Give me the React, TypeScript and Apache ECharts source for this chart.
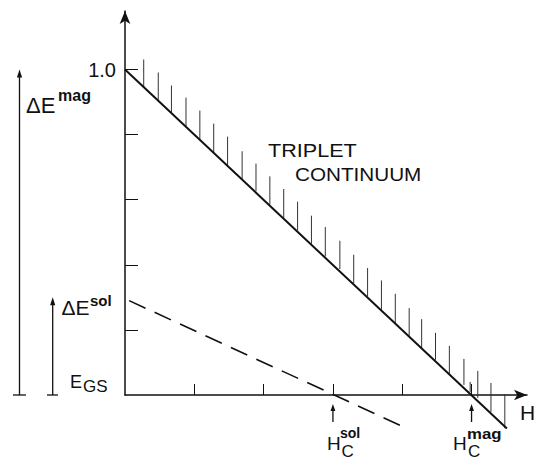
import React, { useEffect, useRef } from "react";
import * as echarts from "echarts";

// Field H in units where H_C^mag = 5 ; energy in units of ΔE^mag
const xTicks = [1, 2, 3, 4, 5];
const yTicks = [0.2, 0.4, 0.6, 0.8, 1.0];
const yLabelValues = [1.0];
const yLabelText = "1.0";

// Lower edge of the triplet continuum (solid line)
const continuumEdge: [number, number][] = [
  [0, 1.0],
  [5.51, -0.103],
];
// Soliton line (dashed)
const solitonLine: [number, number][] = [
  [0.06, 0.29],
  [4.09, -0.105],
];

// Hatching above the continuum edge
const hatchX = [
  0.27, 0.48, 0.67, 0.88, 1.08, 1.28, 1.48, 1.69, 1.89, 2.09, 2.29, 2.49, 2.69,
  2.89, 3.1, 3.3, 3.5, 3.7, 3.9, 4.1, 4.28, 4.48, 4.68, 4.89, 4.98, 5.09, 5.28,
  5.48,
];
const hatchBottom = [
  0.946, 0.906, 0.868, 0.825, 0.785, 0.745, 0.705, 0.664, 0.626, 0.585, 0.544,
  0.506, 0.465, 0.426, 0.387, 0.344, 0.303, 0.262, 0.222, 0.182, 0.144, 0.108,
  0.065, 0.031, 0.009, -0.009, -0.052, -0.102,
];
const hatchTop = [
  1.031, 0.991, 0.951, 0.914, 0.874, 0.834, 0.794, 0.749, 0.711, 0.672, 0.633,
  0.594, 0.551, 0.516, 0.474, 0.431, 0.39, 0.352, 0.311, 0.267, 0.233, 0.191,
  0.151, 0.111, 0.04, 0.074, 0.037, 0.003,
];

const dEmag = 1.0;
const dEsol = 0.3;
const HcSol = 3;
const HcMag = 5;

const FONT = "Liberation Sans, Arial, sans-serif";
const INK = "#111";

function txt(
  text: string,
  x: number,
  y: number,
  size: number,
  scaleX = 1,
  weight = "normal"
) {
  return {
    type: "text",
    x,
    y,
    scaleX,
    silent: true,
    style: {
      text,
      fill: INK,
      fontSize: size,
      fontWeight: weight,
      fontFamily: FONT,
      textAlign: "left",
      textVerticalAlign: "middle",
    },
  };
}

function upArrow(x: number, yBottom: number, yTop: number, head = 8, hw = 2.6) {
  return [
    {
      type: "line",
      silent: true,
      shape: { x1: x, y1: yBottom, x2: x, y2: yTop + head - 1 },
      style: { stroke: INK, lineWidth: 1.3 },
    },
    {
      type: "polygon",
      silent: true,
      shape: {
        points: [
          [x, yTop],
          [x - hw, yTop + head],
          [x + hw, yTop + head],
        ],
      },
      style: { fill: INK },
    },
  ];
}

export default function App() {
  const ref = useRef<HTMLDivElement>(null);

  useEffect(() => {
    if (!ref.current) return;
    const chart = echarts.init(ref.current, null, { renderer: "svg" });

    const axisCommon = {
      type: "value",
      splitLine: { show: false },
      axisLine: {
        show: true,
        onZero: false,
        symbol: ["none", "arrow"],
        symbolSize: [8, 13],
        lineStyle: { color: INK, width: 1.5 },
      },
    };

    chart.setOption({
      animation: false,
      backgroundColor: "#fff",
      grid: { left: 125, top: 11, width: 402, height: 384 },
      xAxis: {
        ...axisCommon,
        min: 0,
        max: 5.8,
        axisTick: {
          show: true,
          inside: true,
          length: 11,
          customValues: xTicks,
          lineStyle: { color: INK, width: 1 },
        },
        axisLabel: { show: false },
      },
      yAxis: {
        ...axisCommon,
        min: 0,
        max: 1.18,
        axisTick: {
          show: true,
          inside: true,
          length: 13,
          customValues: yTicks,
          lineStyle: { color: INK, width: 1 },
        },
        axisLabel: {
          show: true,
          customValues: yLabelValues,
          formatter: () => yLabelText,
          color: INK,
          fontSize: 20,
          fontFamily: FONT,
          margin: 9,
        },
      },
      series: [
        {
          type: "line",
          data: continuumEdge,
          symbol: "none",
          clip: false,
          lineStyle: { color: INK, width: 2 },
        },
        {
          type: "line",
          data: solitonLine,
          symbol: "none",
          clip: false,
          lineStyle: { color: INK, width: 1.6, type: [18, 10] },
        },
        {
          type: "custom",
          clip: false,
          data: hatchX.map((x, i) => [x, hatchBottom[i], hatchTop[i]]),
          encode: { x: 0, y: [1, 2] },
          renderItem: (params: any, api: any) => {
            const p1 = api.coord([api.value(0), api.value(1)]);
            const p2 = api.coord([api.value(0), api.value(2)]);
            return {
              type: "line",
              shape: { x1: p1[0], y1: p1[1], x2: p2[0], y2: p2[1] },
              style: { stroke: "#333", lineWidth: 1 },
            };
          },
        },
      ],
    });

    const toPx = (x: number, y: number) =>
      chart.convertToPixel({ gridIndex: 0 }, [x, y]) as number[];
    const origin = toPx(0, 0);
    const yMag = toPx(0, dEmag)[1];
    const ySol = toPx(0, dEsol)[1];
    const xSol = toPx(HcSol, 0)[0];
    const xMag = toPx(HcMag, 0)[0];
    const y0 = origin[1];

    const graphic: any[] = [
      // ΔE^mag bracket arrow
      ...upArrow(19.5, y0, yMag),
      {
        type: "line",
        silent: true,
        shape: { x1: 13, y1: y0, x2: 26, y2: y0 },
        style: { stroke: INK, lineWidth: 1.3 },
      },
      // ΔE^sol arrow
      ...upArrow(52.7, y0, ySol),
      {
        type: "line",
        silent: true,
        shape: { x1: 47, y1: y0, x2: 58, y2: y0 },
        style: { stroke: INK, lineWidth: 1.3 },
      },
      // Critical field arrows
      ...upArrow(xSol, y0 + 27, y0 + 9, 7, 2.4),
      ...upArrow(xMag, y0 + 27, y0 + 9, 7, 2.4),

      txt("ΔE", 26, 105, 22),
      txt("mag", 58, 95, 16, 1, "bold"),
      txt("ΔE", 61.5, 307.5, 21),
      txt("sol", 90, 300.5, 15, 1, "bold"),
      txt("E", 70, 381.5, 18),
      txt("GS", 83, 386.5, 17),
      txt("TRIPLET", 268, 150.5, 18, 1.2),
      txt("CONTINUUM", 295, 175, 18, 1.15),
      txt("H", 520, 412.5, 21),
      txt("H", 327, 443.5, 19),
      txt("sol", 340, 433, 14, 1, "bold"),
      txt("C", 341.5, 451, 17),
      txt("H", 453, 443.5, 19),
      txt("mag", 467, 434, 15, 1.12, "bold"),
      txt("C", 468, 451, 17),
    ];

    chart.setOption({ graphic });

    return () => chart.dispose();
  }, []);

  return (
    <div
      ref={ref}
      style={{ position: "fixed", left: 0, top: 0, width: 535, height: 461 }}
    />
  );
}
